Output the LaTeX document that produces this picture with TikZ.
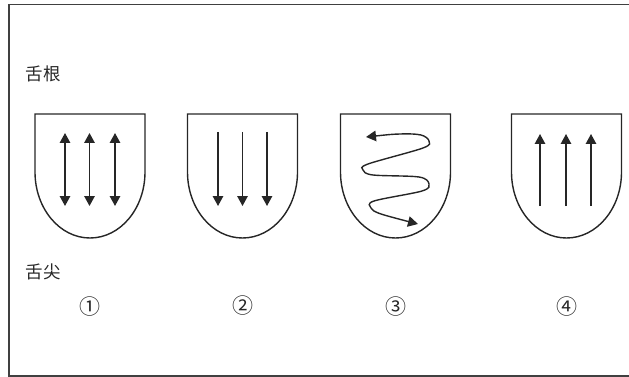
\documentclass[tikz,border=0pt]{standalone}
\usepackage{fontspec}
\setmainfont{Noto Sans CJK SC}
\usetikzlibrary{arrows.meta}
\tikzset{
  outline/.style={line width=1.4pt, draw=black!85},
  flow/.style={line width=1.4pt, draw=black!85},
  tipA/.tip={Triangle[length=10pt,width=10.5pt]},
  lbl/.style={font=\fontsize{17.5}{17.5}\selectfont, inner sep=0pt, text=black!85},
  num/.style={font=\fontsize{21}{21}\selectfont, inner sep=0pt, text=black!85},
}
\newcommand\tonguebox[1]{%
  \draw[outline] (#1-55,114) -- (#1+55,114) -- (#1+55,172)
    arc[start angle=0, end angle=180, x radius=55, y radius=66] -- cycle;}
\begin{document}
\begin{tikzpicture}[x=1pt,y=-1pt]
\useasboundingbox (0,0) rectangle (629,377);
% frame
\draw[line width=1.2pt, draw=black!75] (630,4.5) -- (9,4.5) -- (9,376) -- (630,376);
% labels
\node[lbl] (root) at (43,74) {舌根};
\node[lbl] (tip) at (43,272) {舌尖};
% shapes
\tonguebox{90}
\tonguebox{242.5}
\tonguebox{395.5}
\tonguebox{566.5}
% 1: double arrows
\foreach \x [count=\i] in {65,89.5,115} {
  \coordinate (a1t\i) at (\x,133);
  \coordinate (a1b\i) at (\x,206);
  \draw[flow, {tipA}-{tipA}] (a1t\i) -- (a1b\i);
}
% 2: down arrows
\foreach \x [count=\i] in {218,242.5,267} {
  \coordinate (a2t\i) at (\x,132);
  \coordinate (a2b\i) at (\x,206);
  \draw[flow, -{tipA}] (a2t\i) -- (a2b\i);
}
% 3: zigzag
\draw[flow, {tipA}-{tipA}] plot[smooth, tension=0.55] coordinates {
  (366,137) (400,134) (421,135) (429,141) (423,148) (368,164) (363,170)
  (373,175) (419,177) (429,184) (422,191) (374,201) (371,208) (381,214) (418,224)};
% 4: up arrows
\foreach \x [count=\i] in {540,566,591} {
  \coordinate (a4b\i) at (\x,206);
  \coordinate (a4t\i) at (\x,134);
  \draw[flow, -{tipA}] (a4b\i) -- (a4t\i);
}
% numbers
\node[num] (n1) at (90,307) {①};
\node[num] (n2) at (242.5,306) {②};
\node[num] (n3) at (395.5,307) {③};
\node[num] (n4) at (566.5,307) {④};
\end{tikzpicture}
\end{document}
